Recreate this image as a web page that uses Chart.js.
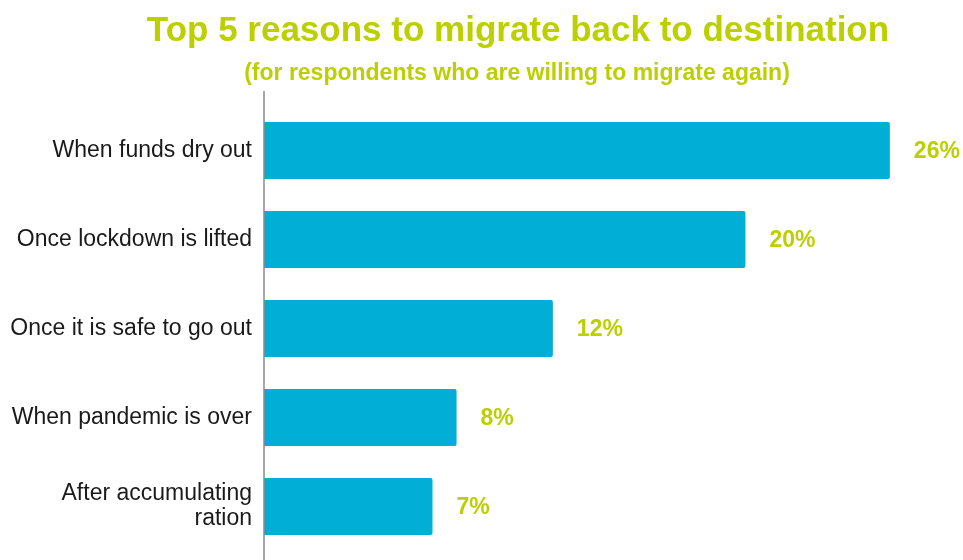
<!DOCTYPE html>
<html>
<head>
<meta charset="utf-8">
<script src="https://cdn.jsdelivr.net/npm/chart.js@4"></script>
<style>
  html, body { margin: 0; padding: 0; background: #fff; }
  #wrap { width: 963px; height: 560px; position: relative; }
</style>
</head>
<body>
<div id="wrap"><canvas id="reasonsChart" width="963" height="560"></canvas></div>
<script>
// survey results: share of respondents per reason
const reasons = [
    "When funds dry out",
    "Once lockdown is lifted",
    "Once it is safe to go out",
    "When pandemic is over",
    ["After accumulating", "ration"]
];
const shares = [26, 20, 12, 8, 7];

const titleText = "Top 5 reasons to migrate back to destination";
const subtitleText = "(for respondents who are willing to migrate again)";

const green = "#bccf00";
const barBlue = "#00aed6";

// title, subtitle, axis line and % labels drawn on the canvas
const decorations = {
    id: "decorations",
    afterDraw(chart) {
        const ctx = chart.ctx;
        const area = chart.chartArea;
        ctx.save();
        ctx.fillStyle = green;
        ctx.textAlign = "center";
        ctx.textBaseline = "middle";
        ctx.font = "bold 35px Arial, 'Liberation Sans', sans-serif";
        ctx.fillText(titleText, 518, 31);
        ctx.font = "bold 23px Arial, 'Liberation Sans', sans-serif";
        ctx.fillText(subtitleText, 517, 74);

        // vertical axis line
        ctx.strokeStyle = "#8a8a8a";
        ctx.lineWidth = 1.5;
        ctx.beginPath();
        ctx.moveTo(area.left, 91);
        ctx.lineTo(area.left, 560);
        ctx.stroke();

        // value labels
        ctx.textAlign = "left";
        ctx.font = "bold 23px Arial, 'Liberation Sans', sans-serif";
        const meta = chart.getDatasetMeta(0);
        meta.data.forEach((bar, i) => {
            ctx.fillText(shares[i] + "%", bar.x + 24, bar.y + 1);
        });
        ctx.restore();
    }
};

const ctx = document.getElementById("reasonsChart").getContext("2d");
const chart = new Chart(ctx, {
    type: "bar",
    data: {
        labels: reasons,
        datasets: [{
            data: shares,
            backgroundColor: barBlue,
            borderRadius: 2,
            borderSkipped: "left",
            barPercentage: 0.64,
            categoryPercentage: 1
        }]
    },
    options: {
        indexAxis: "y",
        responsive: false,
        animation: false,
        layout: {
            padding: { top: 106, bottom: 9, left: 0, right: 25 }
        },
        plugins: {
            legend: { display: false },
            tooltip: { enabled: false }
        },
        scales: {
            x: {
                display: false,
                min: 0,
                max: 28
            },
            y: {
                afterFit(scale) {
                    scale.width = 264;
                    scale.paddingTop = 0;
                    scale.paddingBottom = 0;
                },
                grid: { display: false, drawTicks: false },
                border: { display: false },
                ticks: {
                    color: "#1a1a1a",
                    padding: 12,
                    font: { family: "Arial, 'Liberation Sans', sans-serif", size: 23, lineHeight: 1.1 }
                }
            }
        }
    },
    plugins: [decorations]
});
</script>
</body>
</html>
